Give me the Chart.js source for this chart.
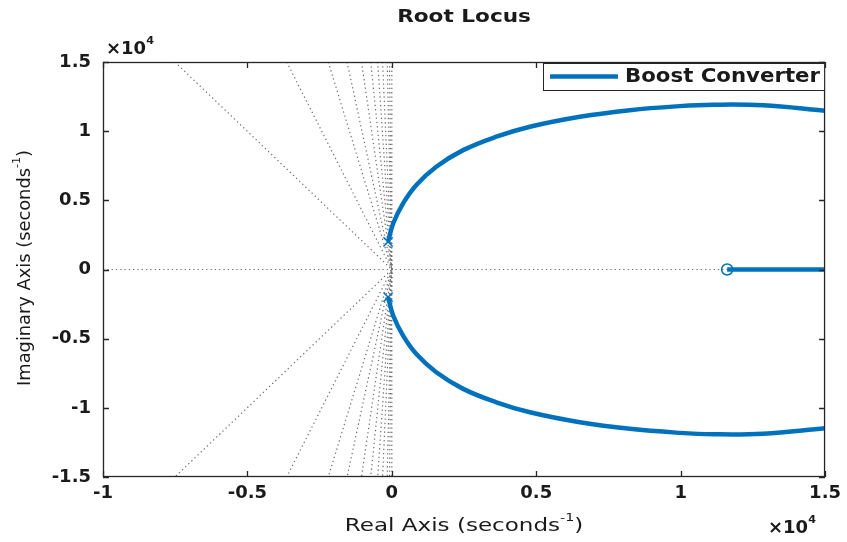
<!DOCTYPE html>
<html>
<head>
<meta charset="utf-8">
<script src="https://cdn.jsdelivr.net/npm/chart.js@4.4.0/dist/chart.umd.min.js"></script>
<style>
  body { margin: 0; background: #fff; }
  #wrap { width: 847px; height: 542px; }
</style>
</head>
<body>
<div id="wrap"><canvas id="grafica" width="847" height="542"></canvas></div>
<script>
// valores (unidades de 10^4)
const xTicks = [-1, -0.5, 0, 0.5, 1, 1.5];
const yTicks = [-1.5, -1, -0.5, 0, 0.5, 1, 1.5];

const locusX = [-0.013, 0.005, 0.039, 0.085, 0.154, 0.247, 0.362, 0.478, 0.651, 0.824, 0.997, 1.112, 1.285, 1.5];
const upperY = [0.20, 0.334, 0.478, 0.611, 0.743, 0.863, 0.960, 1.032, 1.104, 1.152, 1.181, 1.191, 1.187, 1.148];
const lowerY = [-0.20, -0.334, -0.478, -0.611, -0.743, -0.863, -0.960, -1.032, -1.104, -1.152, -1.181, -1.191, -1.187, -1.148];

const realBranchX = [1.161, 1.5];
const realBranchY = [0, 0];

const poleRe = [-0.013, -0.013];
const poleIm = [0.20, -0.20];
const zeroRe = [1.161];
const zeroIm = [0];

// lineas de amortiguamiento: cruce con el borde superior / inferior
const gridEdgeX = [-0.751, -0.364, -0.220, -0.155, -0.105, -0.073, -0.049, -0.032, -0.016, -0.008];

const serieLabel = 'Boost Converter';
const azul = '#0072BD';

function pts(xs, ys) {
  return xs.map((x, i) => ({ x: x, y: ys[i] }));
}

const datasets = [
  { label: serieLabel, data: pts(locusX, upperY), showLine: true, borderColor: azul, borderWidth: 4.5, pointRadius: 0, tension: 0.4 },
  { label: 'lower', data: pts(locusX, lowerY), showLine: true, borderColor: azul, borderWidth: 4.5, pointRadius: 0, tension: 0.4 },
  { label: 'real', data: pts(realBranchX, realBranchY), showLine: true, borderColor: azul, borderWidth: 4.5, pointRadius: 0 },
  { label: 'poles', data: pts(poleRe, poleIm), pointStyle: 'crossRot', pointRadius: 6.5, borderColor: azul, borderWidth: 1.5 },
  { label: 'zero', data: pts(zeroRe, zeroIm), pointStyle: 'circle', pointRadius: 5.5, borderColor: azul, backgroundColor: 'rgba(0,0,0,0)', borderWidth: 1.5 }
];

const gridStyle = { showLine: true, borderColor: '#6e6e6e', borderWidth: 1.2, borderDash: [1.3, 3], pointRadius: 0 };
gridEdgeX.forEach(c => {
  datasets.push(Object.assign({ label: 'grid', data: [{ x: c, y: 1.5 }, { x: 0, y: 0 }, { x: c, y: -1.5 }] }, gridStyle));
});
datasets.push(Object.assign({ label: 'grid', data: [{ x: 0, y: 1.5 }, { x: 0, y: -1.5 }] }, gridStyle));
datasets.push(Object.assign({ label: 'grid', data: [{ x: -1, y: 0 }, { x: 1.5, y: 0 }] }, gridStyle));

// texto con superindices, estirado horizontalmente
function rich(ctx, parts, x, y, size, weight, sx, align, rot) {
  let total = 0;
  parts.forEach(p => {
    ctx.font = weight + ' ' + (p.sup ? size * 0.62 : size) + 'px "DejaVu Sans"';
    p.w = ctx.measureText(p.t).width;
    total += p.w;
  });
  ctx.save();
  ctx.translate(x, y);
  if (rot) ctx.rotate(rot);
  ctx.scale(sx, 1);
  let cx = align === 'left' ? 0 : -total / 2;
  ctx.textBaseline = 'middle';
  ctx.textAlign = 'left';
  ctx.fillStyle = '#1a1a1a';
  parts.forEach(p => {
    ctx.font = weight + ' ' + (p.sup ? size * 0.62 : size) + 'px "DejaVu Sans"';
    ctx.fillText(p.t, cx, p.sup ? -size * 0.45 : 0);
    cx += p.w;
  });
  ctx.restore();
}

const marco = {
  id: 'marco',
  afterDraw(chart) {
    const ctx = chart.ctx;
    const a = chart.chartArea;
    const sx = chart.scales.x, sy = chart.scales.y;
    ctx.save();
    ctx.strokeStyle = '#262626';
    ctx.lineWidth = 1.3;
    ctx.strokeRect(a.left + 0.5, a.top + 0.5, a.right - a.left - 1, a.bottom - a.top - 1);
    ctx.beginPath();
    xTicks.forEach(v => {
      const p = Math.round(sx.getPixelForValue(v)) + 0.5;
      ctx.moveTo(p, a.bottom); ctx.lineTo(p, a.bottom - 6);
      ctx.moveTo(p, a.top); ctx.lineTo(p, a.top + 6);
    });
    yTicks.forEach(v => {
      const p = Math.round(sy.getPixelForValue(v)) + 0.5;
      ctx.moveTo(a.left, p); ctx.lineTo(a.left + 6, p);
      ctx.moveTo(a.right, p); ctx.lineTo(a.right - 6, p);
    });
    ctx.stroke();

    // leyenda
    ctx.lineWidth = 1;
    ctx.fillStyle = '#fff';
    ctx.fillRect(543, 63, a.right - 543, 27);
    ctx.strokeRect(543.5, 63.5, a.right - 544, 27);
    ctx.strokeStyle = azul;
    ctx.lineWidth = 4.5;
    ctx.beginPath();
    ctx.moveTo(550, 76.5); ctx.lineTo(618, 76.5);
    ctx.stroke();
    ctx.restore();
    rich(ctx, [{ t: serieLabel }], 625, 77, 19, 'bold', 1.12, 'left');

    rich(ctx, [{ t: 'Root Locus' }], (a.left + a.right) / 2, 17, 18, 'bold', 1.2, 'center');
    rich(ctx, [{ t: 'Real Axis (seconds' }, { t: '-1', sup: true }, { t: ')' }], (a.left + a.right) / 2, 526, 18, 'normal', 1.28, 'center');
    rich(ctx, [{ t: 'Imaginary Axis (seconds' }, { t: '-1', sup: true }, { t: ')' }], 25, 268, 18, 'normal', 0.99, 'center', -Math.PI / 2);
    rich(ctx, [{ t: '×10' }, { t: '4', sup: true }], 106, 49, 18, 'bold', 1.0, 'left');
    rich(ctx, [{ t: '×10' }, { t: '4', sup: true }], 768, 528, 18, 'bold', 1.0, 'left');
  }
};

const fmt = v => String(v);

const ctx = document.getElementById('grafica').getContext('2d');
let myChart = new Chart(ctx, {
  type: 'scatter',
  data: { datasets: datasets },
  options: {
    responsive: false,
    animation: false,
    layout: { padding: { left: 0, right: 21, top: 62, bottom: 0 } },
    plugins: { legend: { display: false }, tooltip: { enabled: false } },
    scales: {
      x: {
        type: 'linear', min: -1, max: 1.5,
        afterBuildTicks: s => { s.ticks = xTicks.map(v => ({ value: v })); },
        afterFit: s => { s.height = 65; },
        grid: { display: false, drawTicks: false },
        border: { display: false },
        ticks: { padding: 6, color: '#1a1a1a', callback: fmt, font: { family: 'DejaVu Sans', size: 18, weight: 'bold' }, maxRotation: 0 }
      },
      y: {
        type: 'linear', min: -1.5, max: 1.5,
        afterBuildTicks: s => { s.ticks = yTicks.map(v => ({ value: v })); },
        afterFit: s => { s.width = 103; },
        grid: { display: false, drawTicks: false },
        border: { display: false },
        ticks: { padding: 12, color: '#1a1a1a', callback: fmt, font: { family: 'DejaVu Sans', size: 18, weight: 'bold' } }
      }
    }
  },
  plugins: [marco]
});
</script>
</body>
</html>
